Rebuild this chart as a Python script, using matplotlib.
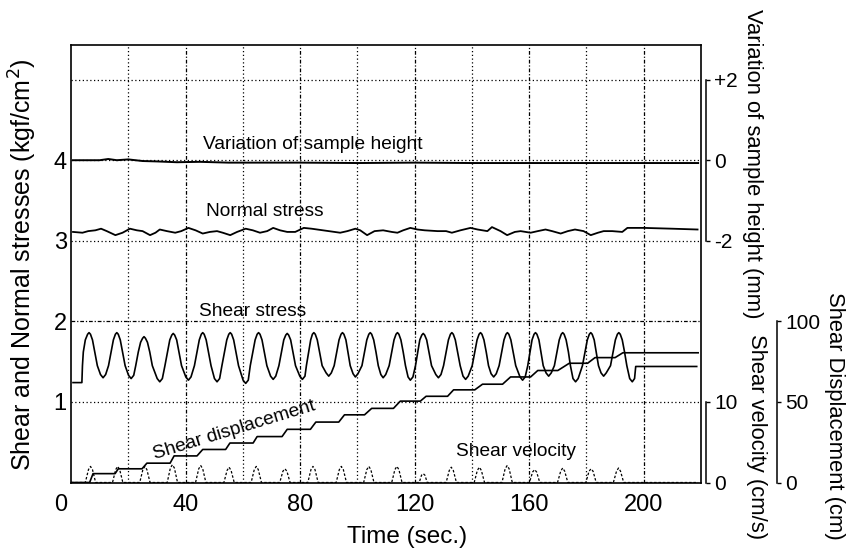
import matplotlib
matplotlib.use("Agg")
import matplotlib.pyplot as plt
from matplotlib.transforms import ScaledTranslation

plt.rcParams['font.family'] = ['Liberation Sans', 'DejaVu Sans']

# ---------------- data ----------------
# Shear stress (kgf/cm2) vs time (s)
shear_stress = [
    (0.7, 1.24), (3.8, 1.24), (4.0, 1.45), (4.3, 1.62), (5.0, 1.77), (5.8, 1.84), (6.3, 1.86), (6.8, 1.84),
    (7.5, 1.77), (8.3, 1.62), (9.2, 1.45), (10.3, 1.34), (11.2, 1.30), (12.1, 1.34),
    (13.1, 1.45), (14.0, 1.62), (14.8, 1.77), (15.5, 1.84), (16.0, 1.86), (16.5, 1.84), (17.2, 1.77), (18.0, 1.62), (18.9, 1.45), (20.1, 1.33), (21.0, 1.29), (21.9, 1.33),
    (22.6, 1.45), (23.5, 1.62), (24.3, 1.74), (25.0, 1.79), (25.5, 1.81), (26.0, 1.79), (26.7, 1.74), (27.5, 1.62), (28.4, 1.45), (30.1, 1.29), (31.0, 1.25), (31.9, 1.29),
    (32.8, 1.45), (33.7, 1.62), (34.5, 1.77), (35.2, 1.83), (35.7, 1.85), (36.2, 1.83), (36.9, 1.77), (37.7, 1.62), (38.6, 1.45), (40.1, 1.31), (41.0, 1.27), (41.9, 1.31),
    (43.1, 1.45), (44.0, 1.62), (44.8, 1.77), (45.5, 1.84), (46.0, 1.86), (46.5, 1.84), (47.2, 1.77), (48.0, 1.62), (48.9, 1.45), (50.1, 1.29), (51.0, 1.25), (51.9, 1.29),
    (52.7, 1.45), (53.6, 1.62), (54.4, 1.77), (55.1, 1.84), (55.6, 1.86), (56.1, 1.84), (56.8, 1.77), (57.6, 1.62), (58.5, 1.45), (60.1, 1.27), (61.0, 1.23), (61.9, 1.27),
    (62.6, 1.45), (63.5, 1.62), (64.3, 1.77), (65.0, 1.84), (65.5, 1.86), (66.0, 1.84), (66.7, 1.77), (67.5, 1.62), (68.4, 1.45), (69.7, 1.32), (70.6, 1.28), (71.5, 1.32),
    (72.6, 1.45), (73.5, 1.62), (74.3, 1.77), (75.0, 1.83), (75.5, 1.85), (76.0, 1.83), (76.7, 1.77), (77.5, 1.62), (78.4, 1.45), (79.9, 1.32), (80.8, 1.28), (81.7, 1.32),
    (82.2, 1.45), (83.0, 1.62), (83.7, 1.77), (84.3, 1.84), (84.8, 1.86), (85.3, 1.84), (86.0, 1.77), (86.8, 1.62), (87.7, 1.45), (89.1, 1.36), (90.0, 1.32), (90.9, 1.36),
    (91.9, 1.45), (92.8, 1.62), (93.6, 1.77), (94.3, 1.84), (94.8, 1.86), (95.3, 1.84), (96.0, 1.77), (96.7, 1.62), (97.5, 1.45), (98.5, 1.35), (99.3, 1.31), (100.2, 1.35),
    (101.6, 1.45), (102.5, 1.62), (103.3, 1.77), (104.0, 1.84), (104.5, 1.86), (105.0, 1.84), (105.7, 1.77), (106.5, 1.62), (107.3, 1.45), (108.2, 1.34), (109.0, 1.30), (109.9, 1.34),
    (111.1, 1.45), (112.0, 1.62), (112.8, 1.77), (113.5, 1.84), (114.0, 1.86), (114.5, 1.84), (115.2, 1.77), (116.0, 1.62), (116.8, 1.45), (117.7, 1.31), (118.5, 1.27), (119.4, 1.31),
    (120.3, 1.45), (121.1, 1.62), (121.8, 1.77), (122.5, 1.83), (123.0, 1.85), (123.5, 1.83), (124.2, 1.77), (125.0, 1.62), (125.9, 1.45), (127.4, 1.34), (128.3, 1.30), (129.2, 1.34),
    (130.1, 1.45), (131.0, 1.62), (131.8, 1.77), (132.5, 1.84), (133.0, 1.86), (133.5, 1.84), (134.2, 1.77), (135.0, 1.62), (135.9, 1.45), (136.9, 1.32), (137.8, 1.28), (138.7, 1.32),
    (140.1, 1.45), (141.0, 1.62), (141.8, 1.77), (142.5, 1.84), (143.0, 1.86), (143.5, 1.84), (144.2, 1.77), (145.0, 1.62), (145.8, 1.45), (146.7, 1.35), (147.6, 1.31), (148.5, 1.35),
    (149.5, 1.45), (150.4, 1.62), (151.2, 1.77), (151.9, 1.84), (152.4, 1.86), (152.9, 1.84), (153.6, 1.77), (154.4, 1.62), (155.3, 1.45), (156.8, 1.31), (157.7, 1.27), (158.6, 1.31),
    (159.5, 1.45), (160.3, 1.62), (161.0, 1.77), (161.7, 1.84), (162.2, 1.86), (162.7, 1.84), (163.4, 1.77), (164.1, 1.62), (164.9, 1.45), (165.9, 1.36), (166.8, 1.32), (167.7, 1.36),
    (168.8, 1.45), (169.7, 1.62), (170.5, 1.77), (171.2, 1.84), (171.7, 1.86), (172.2, 1.84), (172.9, 1.77), (173.7, 1.62), (174.4, 1.45), (175.3, 1.29), (176.2, 1.25), (177.1, 1.29),
    (178.6, 1.45), (179.5, 1.62), (180.3, 1.77), (181.0, 1.84), (181.5, 1.86), (182.0, 1.84), (182.7, 1.77), (183.4, 1.62), (184.2, 1.45), (185.1, 1.36), (186.0, 1.32), (186.9, 1.36),
    (188.4, 1.45), (189.3, 1.62), (190.1, 1.77), (190.8, 1.84), (191.3, 1.86), (191.8, 1.84), (192.5, 1.77), (193.3, 1.62), (194.1, 1.45), (195.1, 1.29), (196.0, 1.25), (196.8, 1.29),
    (197.2, 1.44), (218.5, 1.44),
]

# Normal stress (kgf/cm2) vs time (s)
normal_stress = [
    (0.7, 3.11), (4, 3.10), (6, 3.12), (8.5, 3.13), (10.5, 3.15), (12.5, 3.12), (15.5, 3.07), (18, 3.10),
    (20.6, 3.15), (23, 3.13), (25, 3.12), (27.6, 3.07), (29.5, 3.10), (31, 3.14), (33.5, 3.12), (36.4, 3.10),
    (38.5, 3.12), (41, 3.16), (43.5, 3.13), (46, 3.09), (48.5, 3.11), (51, 3.12), (53, 3.10), (55.6, 3.07),
    (58, 3.11), (61, 3.15), (63.5, 3.13), (66, 3.10), (68.5, 3.12), (70.6, 3.16), (73, 3.13), (75.5, 3.11),
    (78.3, 3.11), (81.3, 3.16), (84, 3.15), (86, 3.14), (90, 3.12), (94, 3.10), (96.5, 3.12), (99.3, 3.15),
    (101, 3.13), (103.4, 3.07), (106, 3.12), (109, 3.13), (112, 3.11), (114, 3.10), (116, 3.13), (118.5, 3.16),
    (121, 3.14), (123.5, 3.13), (128, 3.12), (131, 3.12), (133, 3.10), (136, 3.13), (139.5, 3.16), (142, 3.14),
    (145.4, 3.12), (147, 3.17), (150, 3.12), (152.3, 3.07), (155, 3.11), (157, 3.12), (160.5, 3.10), (163, 3.12),
    (165.7, 3.14), (168, 3.12), (171, 3.09), (173.5, 3.12), (176, 3.14), (179, 3.12), (181.5, 3.07), (184, 3.10),
    (186, 3.12), (189, 3.12), (192.5, 3.11), (194.3, 3.16), (200, 3.16), (210, 3.15), (218.8, 3.14),
]

# Variation of sample height (mm) vs time (s)
sample_height = [
    (0.7, 0.0), (10, 0.0), (13, 0.03), (16, 0.0), (20, 0.02), (25, -0.02), (30, -0.03), (37, -0.05),
    (45, -0.04), (55, -0.06), (65, -0.06), (80, -0.06), (100, -0.07), (120, -0.06), (140, -0.07),
    (160, -0.07), (180, -0.07), (200, -0.07), (219, -0.07),
]

# Shear displacement (cm) vs time (s)
shear_displacement = [
    (0, 0), (6.5, 0), (7.7, 5.5), (15.4, 5.5), (16.5, 8.5), (24.8, 8.5), (26.5, 12), (34.6, 12),
    (36, 16.5), (44, 16.5), (46, 20.5), (54, 20.5), (55.5, 24.5), (63.6, 24.5), (65, 28.5), (73.7, 28.5),
    (75.5, 33), (83.6, 33), (85.5, 37.5), (93.5, 37.5), (95.5, 42), (102.5, 42), (105, 46), (112.6, 46),
    (115, 50.5), (122, 50.5), (124, 53.5), (131.5, 53.5), (133.6, 57.5), (141, 57.5), (143.7, 61), (150.7, 61),
    (153.5, 65.5), (160.5, 65.5), (163, 69.5), (170, 69.5), (174, 74), (180.4, 74), (183, 77.5), (190, 77.5),
    (192.7, 80.5), (219, 80.5),
]

# Shear velocity (cm/s) vs time (s)
shear_velocity = [
    (0, 0),
    (5.0, 0), (6.1, 1.6), (6.8, 2.0), (7.5, 1.6), (8.6, 0),
    (14.5, 0), (15.6, 1.6), (16.3, 2.0), (17.0, 1.6), (18.1, 0),
    (24.0, 0), (25.1, 1.6), (25.8, 2.0), (26.5, 1.6), (27.6, 0),
    (33.6, 0), (34.7, 1.8), (35.4, 2.2), (36.1, 1.8), (37.2, 0),
    (43.5, 0), (44.6, 1.7), (45.3, 2.1), (46.0, 1.7), (47.1, 0),
    (53.4, 0), (54.5, 1.5), (55.2, 1.9), (55.9, 1.5), (57.0, 0),
    (62.9, 0), (64.0, 1.6), (64.7, 2.0), (65.4, 1.6), (66.5, 0),
    (72.9, 0), (74.0, 1.4), (74.7, 1.7), (75.4, 1.4), (76.5, 0),
    (82.7, 0), (83.8, 1.6), (84.5, 2.0), (85.2, 1.6), (86.3, 0),
    (92.6, 0), (93.7, 1.6), (94.4, 2.0), (95.1, 1.6), (96.2, 0),
    (102.2, 0), (103.3, 1.6), (104.0, 2.0), (104.7, 1.6), (105.8, 0),
    (112.0, 0), (113.1, 1.6), (113.8, 2.0), (114.5, 1.6), (115.6, 0),
    (121.6, 0), (122.4, 0.9), (123.0, 1.1), (123.6, 0.9), (124.4, 0),
    (131.0, 0), (132.1, 1.5), (132.8, 1.9), (133.5, 1.5), (134.6, 0),
    (140.8, 0), (141.9, 1.5), (142.6, 1.9), (143.3, 1.5), (144.4, 0),
    (150.5, 0), (151.6, 1.7), (152.3, 2.1), (153.0, 1.7), (154.1, 0),
    (160.1, 0), (161.2, 1.3), (161.9, 1.6), (162.6, 1.3), (163.7, 0),
    (169.9, 0), (171.0, 1.4), (171.7, 1.8), (172.4, 1.4), (173.5, 0),
    (179.8, 0), (180.9, 1.4), (181.6, 1.7), (182.3, 1.4), (183.4, 0),
    (189.4, 0), (190.5, 1.4), (191.2, 1.8), (191.9, 1.4), (193.0, 0),
    (219, 0),
]

x_ticks = [0, 40, 80, 120, 160, 200]
y_ticks = [1, 2, 3, 4]
height_ticks = [-2, 0, 2]
height_labels = ['-2', '0', '+2']
velocity_ticks = [0, 10]
disp_ticks = [0, 50, 100]

# ---------------- figure ----------------
W, H = 849, 551
PT = 72.0 / 100.0  # points per pixel at dpi 100
fig = plt.figure(figsize=(W / 100, H / 100), dpi=100)
L, R, T, B = 71, 701, 45, 482.5
ax = fig.add_axes([L / W, 1 - B / H, (R - L) / W, (B - T) / H])

XMAX = 220
YMAX = 5.43
ax.set_xlim(0, XMAX)
ax.set_ylim(0, YMAX)

# grid
for xv in range(20, 220, 20):
    if xv % 40 == 0:
        ax.axvline(xv, color='black', lw=0.9, dashes=(3, 1.5, 1, 1.5), zorder=1)
    else:
        ax.axvline(xv, color='black', lw=0.9, dashes=(1, 2), zorder=1)
for yv in [1, 2, 3, 4, 5]:
    if yv == 2:
        ax.axhline(yv, color='black', lw=0.9, dashes=(3, 1.5, 1, 1.5), zorder=1)
    else:
        ax.axhline(yv, color='black', lw=0.9, dashes=(1, 2), zorder=1)

for s in ax.spines.values():
    s.set_linewidth(1.2)

ax.set_xticks(x_ticks)
ax.set_xticklabels([str(v) for v in x_ticks])
ax.set_yticks(y_ticks)
ax.set_yticklabels([str(v) for v in y_ticks])
ax.tick_params(axis='both', length=0, labelsize=17)
ax.tick_params(axis='x', pad=8)
ax.tick_params(axis='y', pad=3)
lab0 = ax.get_xticklabels()[0]
lab0.set_transform(lab0.get_transform() + ScaledTranslation(-0.10, 0, fig.dpi_scale_trans))

st, sv = zip(*shear_stress)
ax.plot(st, sv, color='black', lw=1.2, zorder=3)
nt, nv = zip(*normal_stress)
ax.plot(nt, nv, color='black', lw=1.3, zorder=3)

fig.text(407 / W, 1 - 537 / H, 'Time (sec.)', ha='center', va='center', fontsize=17.5)
fig.text(23 / W, 1 - 265 / H, 'Shear and Normal stresses (kgf/cm$^2$)', rotation=90,
         ha='center', va='center', fontsize=18)

def side_axis(outward_px, lo, hi, bounds, ticks, labels):
    a = ax.twinx()
    a.set_ylim(lo, hi)
    a.set_xlim(0, XMAX)
    for k in ['top', 'bottom', 'left']:
        a.spines[k].set_visible(False)
    a.spines['right'].set_position(('outward', outward_px * PT))
    a.spines['right'].set_bounds(*bounds)
    a.spines['right'].set_linewidth(1.1)
    a.set_yticks(ticks)
    a.set_yticklabels(labels)
    a.tick_params(axis='y', direction='out', length=3, width=1.0, labelsize=15, pad=3)
    return a

# ---- sample height axis (mm): left y = 4 + h/2
ax2 = side_axis(5, (0 - 4) * 2, (YMAX - 4) * 2, (-2, 2), height_ticks, height_labels)
ht, hv = zip(*sample_height)
ax2.plot(ht, hv, color='black', lw=1.4, zorder=3)

# ---- shear velocity axis (cm/s): left y = v/10
ax3 = side_axis(5, 0, YMAX * 10, (0, 10), velocity_ticks, [str(v) for v in velocity_ticks])
vt, vv = zip(*shear_velocity)
ax3.plot(vt, vv, color='black', lw=0.9, dashes=(2, 1.5), zorder=3)

# ---- shear displacement axis (cm): left y = d/50
ax4 = side_axis(76, 0, YMAX * 50, (0, 100), disp_ticks, [str(v) for v in disp_ticks])
dt, dv = zip(*shear_displacement)
ax4.plot(dt, dv, color='black', lw=1.2, zorder=3)

# ---- right axis titles
fig.text(752 / W, 1 - 164 / H, 'Variation of sample height (mm)', rotation=270,
         ha='center', va='center', fontsize=15.8)
fig.text(757 / W, 1 - 437 / H, 'Shear velocity (cm/s)', rotation=270,
         ha='center', va='center', fontsize=15.8)
fig.text(835 / W, 1 - 416 / H, 'Shear Displacement (cm)', rotation=270,
         ha='center', va='center', fontsize=15.8)

# ---- curve annotations
ann = dict(transform=fig.transFigure, ha='center', va='center', fontsize=13.8)
ax.text(313 / W, 1 - 145 / H, 'Variation of sample height', **ann)
ax.text(265 / W, 1 - 212 / H, 'Normal stress', **ann)
ax.text(253 / W, 1 - 312 / H, 'Shear stress', **ann)
ax.text(234 / W, 1 - 430 / H, 'Shear displacement', rotation=17, **ann)
ax.text(516 / W, 1 - 452 / H, 'Shear velocity', **ann)

fig.savefig('out.png', dpi=100)
